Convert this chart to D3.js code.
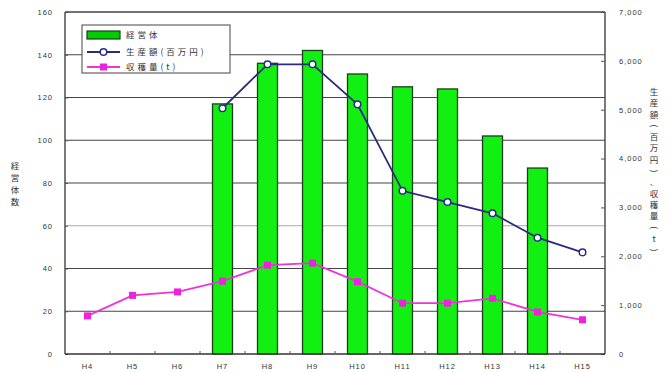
<!DOCTYPE html>
<html>
<head>
<meta charset="utf-8">
<script src="https://cdn.jsdelivr.net/npm/d3@7"></script>
<style>
  html, body { margin: 0; padding: 0; background: #fff; }
  svg { display: block; }
  text { font-family: "Liberation Sans", "Noto Sans CJK JP", sans-serif; fill: #333; }
  .jp { font-family: "Noto Sans CJK JP", sans-serif; }
</style>
</head>
<body>
<svg id="chart" width="670" height="372"></svg>
<script>
// Years (Heisei era)
const years = ["H4","H5","H6","H7","H8","H9","H10","H11","H12","H13","H14","H15"];
// Number of farm businesses (left axis), null where not surveyed
const farms = [null, null, null, 117, 136, 142, 131, 125, 124, 102, 87, null];
// Production value, million yen (right axis)
const prodValue = [null, null, null, 5030, 5930, 5930, 5110, 3340, 3110, 2880, 2380, 2080];
// Harvest, tonnes (right axis)
const harvest = [780, 1200, 1270, 1490, 1820, 1860, 1480, 1040, 1040, 1140, 860, 700];

const leftTicks = [0, 20, 40, 60, 80, 100, 120, 140, 160];
const rightTicks = [0, 1000, 2000, 3000, 4000, 5000, 6000, 7000];

const legendLabels = ["経営体", "生産額(百万円)", "収穫量(t)"];
const leftTitle = "経営体数";
const rightTitle = "生産額(百万円)、収穫量(t)";

const svg = d3.select("#chart");
const m = { left: 65, right: 605, top: 12, bottom: 354 };

const x = d3.scaleBand().domain(years).range([m.left, m.right]);
const yL = d3.scaleLinear().domain([0, 160]).range([m.bottom, m.top]);
const yR = d3.scaleLinear().domain([0, 7000]).range([m.bottom, m.top]);

// Horizontal gridlines on the left-axis ticks
svg.append("g").selectAll("line").data(leftTicks.slice(1)).join("line")
  .attr("x1", m.left).attr("x2", m.right)
  .attr("y1", d => yL(d)).attr("y2", d => yL(d))
  .attr("stroke", d => d === 60 ? "#aaa" : "#444")
  .attr("stroke-width", 1.2);

// Bars
const bw = 20;
svg.append("g").selectAll("rect").data(years.map((y, i) => ({ y, v: farms[i] })).filter(d => d.v != null))
  .join("rect")
  .attr("x", d => x(d.y) + x.bandwidth() / 2 - bw / 2)
  .attr("width", bw)
  .attr("y", d => yL(d.v))
  .attr("height", d => m.bottom - yL(d.v))
  .attr("fill", "#11f011")
  .attr("stroke", "#1f3d1f")
  .attr("stroke-width", 1.3);

// Axes frame
const axL = d3.axisLeft(yL).tickValues(leftTicks).tickSize(-3).tickPadding(12).tickFormat(d3.format("d"));
const gL = svg.append("g").attr("transform", `translate(${m.left},0)`).call(axL);
const axR = d3.axisRight(yR).tickValues(rightTicks).tickSize(-4).tickPadding(14).tickFormat(d3.format(","));
const gR = svg.append("g").attr("transform", `translate(${m.right},0)`).call(axR);
const axB = d3.axisBottom(x).tickSize(0).tickPadding(10);
const gB = svg.append("g").attr("transform", `translate(0,${m.bottom})`).call(axB);

[gL, gR, gB].forEach(g => {
  g.select(".domain").attr("stroke", "#333").attr("stroke-width", 1.3);
  g.selectAll(".tick line").attr("stroke", "#555");
  g.selectAll("text").attr("font-size", 7.5).attr("fill", "#444")
    .attr("font-family", "Liberation Sans, sans-serif").style("letter-spacing", "1px");
});
gL.select(".domain").attr("d", `M0,${m.bottom}V${m.top}`);
gR.select(".domain").attr("d", `M0,${m.bottom}V${m.top}`);
gB.select(".domain").attr("d", `M${m.left},0H${m.right}`);

// Category separator ticks on the x axis
svg.append("g").selectAll("line").data(years.slice(1)).join("line")
  .attr("x1", d => x(d)).attr("x2", d => x(d))
  .attr("y1", m.bottom).attr("y2", m.bottom - 3)
  .attr("stroke", "#555");

// Top border
svg.append("line").attr("x1", m.left).attr("x2", m.right)
  .attr("y1", m.top).attr("y2", m.top).attr("stroke", "#444").attr("stroke-width", 1.2);

const cx = d => x(d) + x.bandwidth() / 2;

// Harvest line (magenta, square markers)
const hData = years.map((y, i) => ({ y, v: harvest[i] })).filter(d => d.v != null);
svg.append("path").datum(hData)
  .attr("fill", "none").attr("stroke", "#ee33dd").attr("stroke-width", 1.8)
  .attr("d", d3.line().x(d => cx(d.y)).y(d => yR(d.v)));
svg.append("g").selectAll("rect").data(hData).join("rect")
  .attr("x", d => cx(d.y) - 3.5).attr("y", d => yR(d.v) - 3.5)
  .attr("width", 7).attr("height", 7).attr("fill", "#ee22dd");

// Production value line (navy, hollow circles)
const pData = years.map((y, i) => ({ y, v: prodValue[i] })).filter(d => d.v != null);
svg.append("path").datum(pData)
  .attr("fill", "none").attr("stroke", "#2a2a80").attr("stroke-width", 1.8)
  .attr("d", d3.line().x(d => cx(d.y)).y(d => yR(d.v)));
svg.append("g").selectAll("circle").data(pData).join("circle")
  .attr("cx", d => cx(d.y)).attr("cy", d => yR(d.v)).attr("r", 3.3)
  .attr("fill", "#fff").attr("stroke", "#2a2a90").attr("stroke-width", 1.5);

// Legend
const lg = svg.append("g");
lg.append("rect").attr("x", 82).attr("y", 25).attr("width", 148).attr("height", 48)
  .attr("fill", "#fff").attr("stroke", "#444").attr("stroke-width", 1);
lg.append("rect").attr("x", 87).attr("y", 31).attr("width", 33).attr("height", 8)
  .attr("fill", "#00cc00").attr("stroke", "#1f3d1f").attr("stroke-width", 1.2);
lg.append("line").attr("x1", 87).attr("x2", 120).attr("y1", 52).attr("y2", 52)
  .attr("stroke", "#2a2a80").attr("stroke-width", 1.8);
lg.append("circle").attr("cx", 103.5).attr("cy", 52).attr("r", 3.3)
  .attr("fill", "#fff").attr("stroke", "#2a2a90").attr("stroke-width", 1.5);
lg.append("line").attr("x1", 87).attr("x2", 120).attr("y1", 67).attr("y2", 67)
  .attr("stroke", "#ee33dd").attr("stroke-width", 1.8);
lg.append("rect").attr("x", 100).attr("y", 63.5).attr("width", 7).attr("height", 7).attr("fill", "#ee22dd");
lg.selectAll("text.lab").data(legendLabels).join("text")
  .attr("class", "lab jp")
  .attr("x", 126).attr("y", (d, i) => [35, 52, 67][i])
  .attr("dy", "0.35em")
  .attr("font-size", 8.5).style("letter-spacing", "3px").attr("fill", "#333")
  .text(d => d);

// Axis titles, written top to bottom one character at a time
function verticalTitle(str, xc, yTop, step) {
  const g = svg.append("g");
  Array.from(str).forEach((ch, i) => {
    const yc = yTop + i * step;
    const t = g.append("text").attr("class", "jp")
      .attr("x", xc).attr("y", yc)
      .attr("text-anchor", "middle").attr("dy", "0.35em")
      .attr("font-size", 8.5).attr("fill", "#333")
      .text(ch);
    if ("()（）".includes(ch)) t.attr("transform", `rotate(90,${xc},${yc})`);
  });
}
verticalTitle(leftTitle, 15, 166, 12);
verticalTitle(rightTitle, 654, 92, 11.3);
</script>
</body>
</html>
